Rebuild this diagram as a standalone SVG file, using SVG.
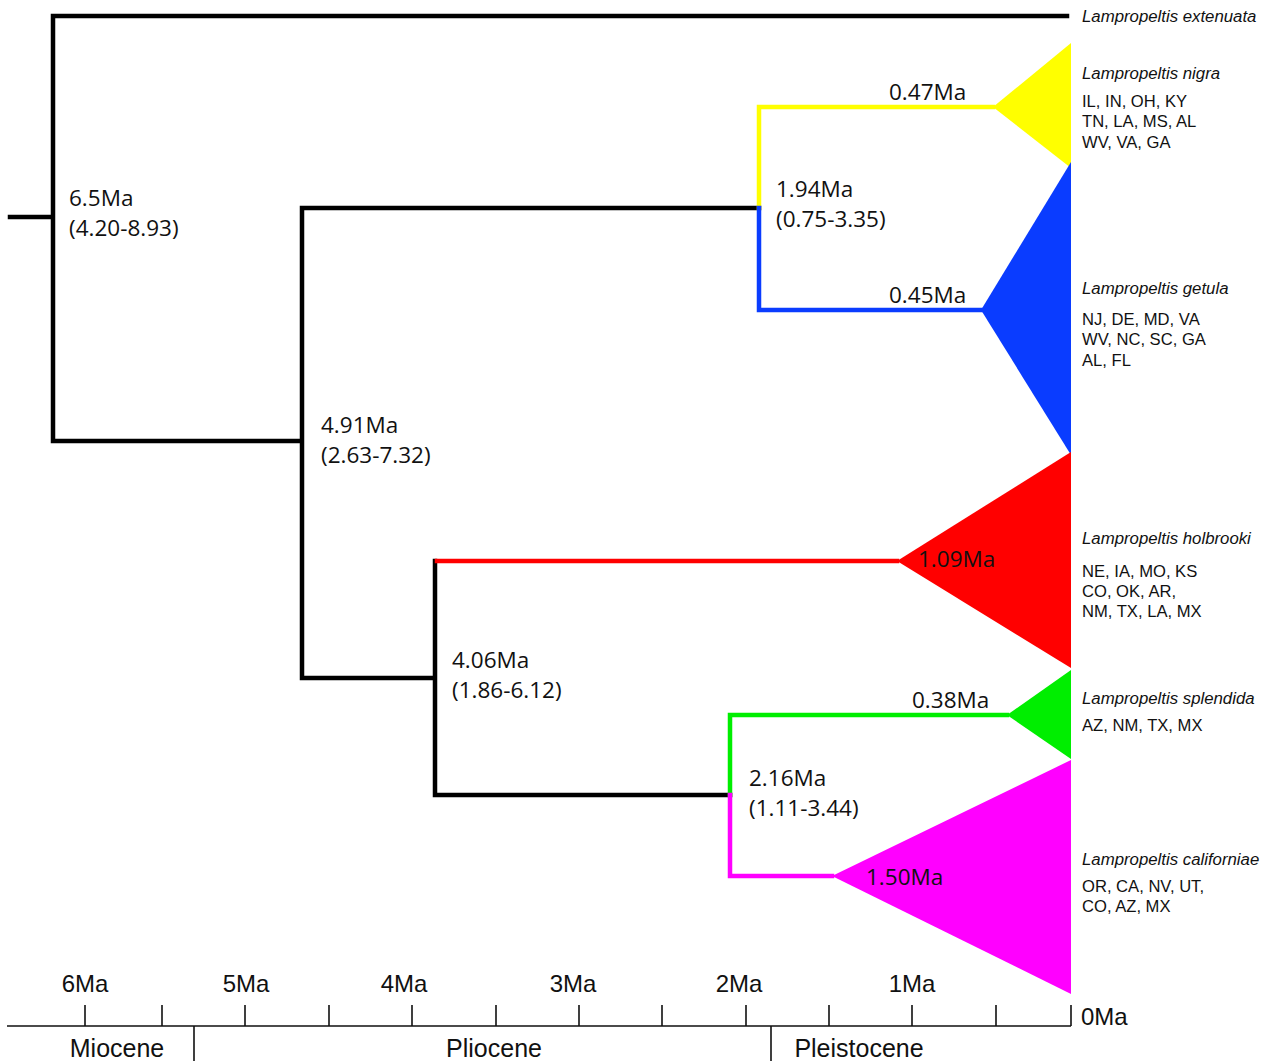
<svg xmlns="http://www.w3.org/2000/svg" width="1268" height="1061" viewBox="0 0 1268 1061">
<style>
.br{fill:none;stroke-width:4.5;stroke-linejoin:miter;stroke-linecap:square}
.k{stroke:#000}
.y{stroke:#ffff00}
.b{stroke:#0a3cff}
.r{stroke:#ff0000}
.g{stroke:#00ee00}
.m{stroke:#ff00ff}
.age{font-family:"Open Sans","Noto Sans",sans-serif;font-size:22.5px;fill:#111}
.sp{font-family:"Liberation Sans",Arial,sans-serif;font-style:italic;font-size:16.8px;fill:#111}
.st{font-family:"Liberation Sans",Arial,sans-serif;font-size:16.6px;fill:#111}
.ax{font-family:"Liberation Sans",Arial,sans-serif;font-size:24px;fill:#111}
.ep{font-family:"Liberation Sans",Arial,sans-serif;font-size:25px;fill:#111}
.tick{stroke:#111;stroke-width:1.6;fill:none}
</style>
<rect width="1268" height="1061" fill="#fff"/>
<g id="connectors">
<path class="br k" d="M10 217H53M1067 16H53V441H302M302 208V678H435M302 208H759M435 561V795H730"/>
<path class="br y" d="M759 208V107H993"/>
<path class="br b" d="M759 208V310H981"/>
<path class="br r" d="M437 561H897"/>
<path class="br g" d="M730 795V715H1007"/>
<path class="br m" d="M730 795V876H832"/>
</g>
<g id="node-extenuata">
<text class="sp" x="1082" y="22">Lampropeltis extenuata</text>
</g>
<g id="node-nigra">
<polygon points="993,107 1071,43 1071,168" fill="#ffff00"/>
<text class="age" x="889" y="100">0.47Ma</text>
<text class="sp" x="1082" y="79">Lampropeltis nigra</text>
<text class="st" x="1082" y="107">IL, IN, OH, KY</text>
<text class="st" x="1082" y="127">TN, LA, MS, AL</text>
<text class="st" x="1082" y="148">WV, VA, GA</text>
</g>
<g id="node-getula">
<polygon points="981,310 1071,162 1071,455" fill="#0a3cff"/>
<text class="age" x="889" y="303">0.45Ma</text>
<text class="sp" x="1082" y="294">Lampropeltis getula</text>
<text class="st" x="1082" y="325">NJ, DE, MD, VA</text>
<text class="st" x="1082" y="345">WV, NC, SC, GA</text>
<text class="st" x="1082" y="366">AL, FL</text>
</g>
<g id="node-holbrooki">
<polygon points="897,561 1071,452 1071,668" fill="#ff0000"/>
<text class="age" x="918" y="567">1.09Ma</text>
<text class="sp" x="1082" y="544">Lampropeltis holbrooki</text>
<text class="st" x="1082" y="577">NE, IA, MO, KS</text>
<text class="st" x="1082" y="597">CO, OK, AR,</text>
<text class="st" x="1082" y="617">NM, TX, LA, MX</text>
</g>
<g id="node-splendida">
<polygon points="1007,715 1071,670 1071,759" fill="#00ee00"/>
<text class="age" x="912" y="708">0.38Ma</text>
<text class="sp" x="1082" y="704">Lampropeltis splendida</text>
<text class="st" x="1082" y="731">AZ, NM, TX, MX</text>
</g>
<g id="node-californiae">
<polygon points="832,876 1071,760 1071,994" fill="#ff00ff"/>
<text class="age" x="866" y="885">1.50Ma</text>
<text class="sp" x="1082" y="865">Lampropeltis californiae</text>
<text class="st" x="1082" y="892">OR, CA, NV, UT,</text>
<text class="st" x="1082" y="912">CO, AZ, MX</text>
</g>
<g id="node-root">
<text class="age" x="69" y="206">6.5Ma</text>
<text class="age" x="69" y="236">(4.20-8.93)</text>
</g>
<g id="node-491">
<text class="age" x="321" y="433">4.91Ma</text>
<text class="age" x="321" y="463">(2.63-7.32)</text>
</g>
<g id="node-194">
<text class="age" x="776" y="197">1.94Ma</text>
<text class="age" x="776" y="227">(0.75-3.35)</text>
</g>
<g id="node-406">
<text class="age" x="452" y="668">4.06Ma</text>
<text class="age" x="452" y="698">(1.86-6.12)</text>
</g>
<g id="node-216">
<text class="age" x="749" y="786">2.16Ma</text>
<text class="age" x="749" y="816">(1.11-3.44)</text>
</g>
<g id="axis">
<path class="tick" d="M7 1026H1071M85 1005V1026M162 1005V1026M245 1005V1026M329 1005V1026M412 1005V1026M496 1005V1026M579 1005V1026M662 1005V1026M746 1005V1026M829 1005V1026M912 1005V1026M996 1005V1026M1071 1005V1026M194 1026V1061M771 1026V1061"/>
<text class="ax" x="85" y="992" text-anchor="middle">6Ma</text>
<text class="ax" x="246" y="992" text-anchor="middle">5Ma</text>
<text class="ax" x="404" y="992" text-anchor="middle">4Ma</text>
<text class="ax" x="573" y="992" text-anchor="middle">3Ma</text>
<text class="ax" x="739" y="992" text-anchor="middle">2Ma</text>
<text class="ax" x="912" y="992" text-anchor="middle">1Ma</text>
<text class="ax" x="1081" y="1025">0Ma</text>
<text class="ep" x="117" y="1057" text-anchor="middle">Miocene</text>
<text class="ep" x="494" y="1057" text-anchor="middle">Pliocene</text>
<text class="ep" x="859" y="1057" text-anchor="middle">Pleistocene</text>
</g>
</svg>
